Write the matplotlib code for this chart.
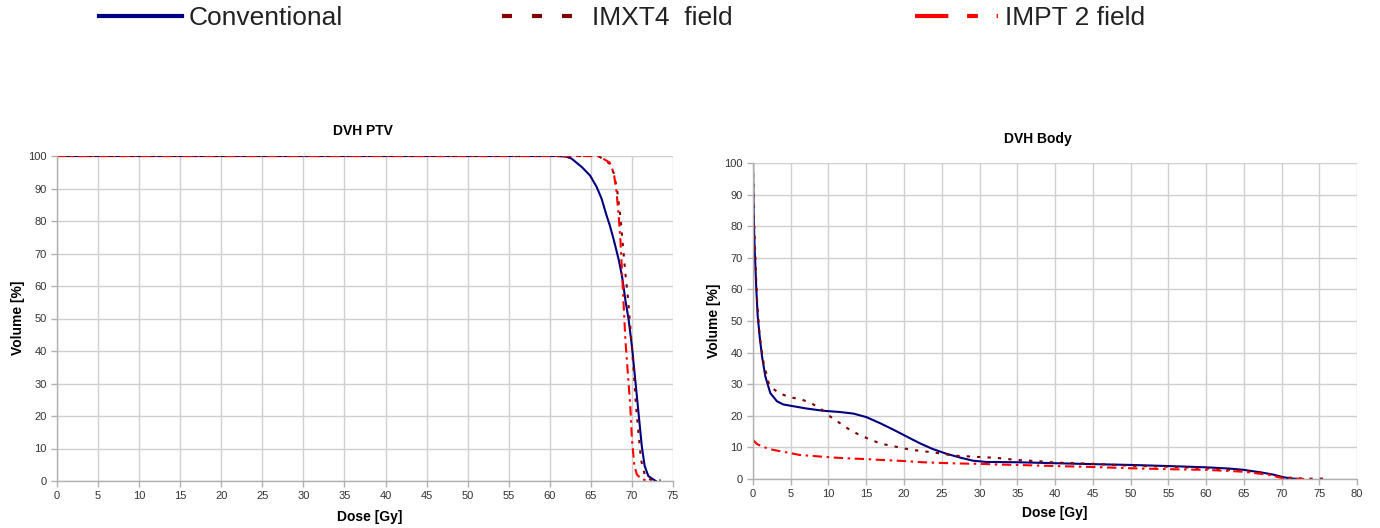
import matplotlib
matplotlib.use("Agg")
import matplotlib.pyplot as plt
from matplotlib.lines import Line2D
import numpy as np

plt.rcParams['font.family'] = ['Liberation Sans', 'DejaVu Sans']

series_names = ["Conventional", "IMXT4  field", "IMPT 2 field"]

# ---- DVH PTV data ----
ptv_conv_dose = [0, 61.0, 62.0, 62.65, 63.9, 64.9, 65.7, 66.3, 66.9, 67.3, 67.8, 68.4, 68.8, 69.2,
                 69.6, 70.0, 70.4, 70.8, 71.2, 71.55, 72.0, 72.9]
ptv_conv_vol = [100, 100, 99.8, 99.2, 96.6, 94.0, 90.5, 86.9, 81.8, 78.7, 74.1, 68.0, 62.9, 55.7,
                49.6, 41.4, 31.2, 21.0, 10.7, 4.6, 1.5, 0.0]

ptv_imxt_dose = [0, 65.5, 66.1, 67.3, 67.8, 68.2, 68.6, 68.8, 69.2, 69.5, 69.8, 70.2, 70.5, 70.8,
                 71.1, 71.6, 72.2, 73.5]
ptv_imxt_vol = [100, 100, 99.7, 97.6, 94.6, 89.5, 81.3, 75.2, 63.9, 56.7, 47.5, 34.3, 23.0, 14.8,
                6.6, 1.5, 0.5, 0.2]

ptv_impt_dose = [0, 65.9, 67.3, 67.8, 68.1, 68.4, 68.6, 68.8, 69.0, 69.2, 69.5, 69.8, 70.0, 70.3,
                 70.6, 71.2, 72.4]
ptv_impt_vol = [100, 100, 98.0, 94.6, 89.5, 81.3, 74.0, 64.0, 53.7, 43.5, 33.2, 23.0, 12.8, 4.6,
                2.0, 0.5, 0.0]

# ---- DVH Body data ----
body_conv_dose = [0, 0.09, 0.22, 0.44, 0.62, 0.88, 1.19, 1.63, 2.29, 3.17, 4.0, 4.93, 7.1, 9.3, 11.5,
                  13.3, 15.0, 16.8, 18.6, 20.3, 22.1, 23.8, 25.6, 27.4, 29.1, 30.9, 35, 40, 45, 50,
                  55, 60, 63.1, 65, 67.5, 68.9, 70, 71.1, 72.5]
body_conv_vol = [100, 83.4, 72.8, 60.0, 51.6, 45.2, 38.9, 32.5, 27.2, 24.6, 23.6, 23.2, 22.3, 21.6, 21.2,
                 20.7, 19.6, 17.7, 15.6, 13.5, 11.3, 9.5, 8.0, 6.8, 5.8, 5.4, 5.3, 5.0, 4.7, 4.45,
                 4.1, 3.7, 3.3, 2.9, 2.0, 1.4, 0.7, 0.2, 0.0]

body_imxt_dose = [0, 0.09, 0.3, 0.53, 0.88, 1.4, 2.07, 2.5, 3.6, 4.9, 6.5, 7.8, 9.1, 10.2, 11.5, 12.6,
                  13.9, 15.3, 16.8, 18.1, 19.4, 21.0, 22.3, 23.8, 25.2, 26.5, 28.2, 29.6, 32.2, 35,
                  38, 40, 45, 50, 55, 60, 65, 67.5, 70, 73, 76]
body_imxt_vol = [100, 85.5, 71.0, 57.0, 45.0, 36.8, 30.4, 28.8, 27.0, 25.9, 25.1, 23.9, 22.0, 19.8,
                 17.7, 15.9, 14.2, 12.7, 11.3, 10.6, 10.0, 9.2, 8.9, 8.4, 8.0, 7.4, 7.2, 7.0, 6.7,
                 6.0, 5.6, 5.2, 4.8, 4.2, 3.9, 3.4, 2.6, 2.0, 0.6, 0.1, 0.1]

body_impt_dose = [0, 0.5, 1.4, 2.7, 4.5, 6.2, 8.4, 10.6, 12.8, 15, 17.2, 19.9, 22.5, 24.7, 27.4, 30,
                  32.2, 35, 40, 45, 50, 55, 60, 65, 68.4, 70.2, 73]
body_impt_vol = [12.4, 11.1, 10.1, 9.2, 8.4, 7.6, 7.2, 6.8, 6.5, 6.3, 6.0, 5.7, 5.3, 5.1, 4.9, 4.8,
                 4.6, 4.45, 4.1, 3.8, 3.4, 3.1, 2.9, 2.3, 1.3, 0.2, 0.0]

ptv_xticks = list(range(0, 80, 5))
body_xticks = list(range(0, 85, 5))
yticks = list(range(0, 110, 10))

colors = ["#000080", "#800000", "#ff0000"]
styles = ["-", (0, (1.6, 3.4)), (0, (4.5, 2.2, 1.2, 2.2))]

W, H = 1380, 528
fig = plt.figure(figsize=(W / 100, H / 100), dpi=100)

def setup(ax, xmax, xticks):
    ax.set_xlim(0, xmax)
    ax.set_ylim(0, 100)
    ax.set_xticks(xticks)
    ax.set_yticks(yticks)
    ax.grid(True, color="#cfcfcf", lw=1.0)
    ax.set_axisbelow(True)
    for s in ["top", "right"]:
        ax.spines[s].set_visible(False)
    for s in ["left", "bottom"]:
        ax.spines[s].set_color("#b0b0b0")
        ax.spines[s].set_linewidth(1.0)
    ax.tick_params(axis="both", labelsize=8, colors="#b0b0b0", labelcolor="#333333",
                   length=4, width=1)

ax1 = fig.add_axes([57 / W, 47 / H, 616 / W, 325 / H])
setup(ax1, 75, ptv_xticks)
ax1.plot(ptv_conv_dose, ptv_conv_vol, color=colors[0], ls=styles[0], lw=1.5)
ax1.plot(ptv_imxt_dose, ptv_imxt_vol, color=colors[1], ls=styles[1], lw=1.5)
ax1.plot(ptv_impt_dose, ptv_impt_vol, color=colors[2], ls=styles[2], lw=1.5)

ax2 = fig.add_axes([753 / W, 49 / H, 604 / W, 316 / H])
setup(ax2, 80, body_xticks)
ax2.plot(body_conv_dose, body_conv_vol, color=colors[0], ls=styles[0], lw=1.5)
ax2.plot(body_imxt_dose, body_imxt_vol, color=colors[1], ls=styles[1], lw=1.5)
ax2.plot(body_impt_dose, body_impt_vol, color=colors[2], ls=styles[2], lw=1.5)

# titles & labels
fig.text(363 / W, 1 - 131 / H, "DVH PTV", ha="center", va="center", fontsize=10, fontweight="bold")
fig.text(1038 / W, 1 - 139 / H, "DVH Body", ha="center", va="center", fontsize=10, fontweight="bold")
fig.text(18 / W, 1 - 318 / H, "Volume [%]", rotation=90, ha="center", va="center", fontsize=10, fontweight="bold")
fig.text(714 / W, 1 - 321 / H, "Volume [%]", rotation=90, ha="center", va="center", fontsize=10, fontweight="bold")
fig.text(370 / W, 1 - 517 / H, "Dose [Gy]", ha="center", va="center", fontsize=10, fontweight="bold")
fig.text(1055 / W, 1 - 513 / H, "Dose [Gy]", ha="center", va="center", fontsize=10, fontweight="bold")

# legend at top (three single-entry legends)
leg_styles = ["-", (0, (2.4, 4.8)), (0, (8, 4.5, 2.6, 4.5))]
leg_x = [99, 502, 915]
for i in range(3):
    h = Line2D([0], [0], color=colors[i], ls=leg_styles[i], lw=3.0)
    lg = fig.legend([h], [series_names[i]], loc="center left",
                    bbox_to_anchor=(leg_x[i] / W, 1 - 18 / H), frameon=False,
                    fontsize=19, handlelength=3.15, handletextpad=0.25,
                    borderpad=0, borderaxespad=0)
    for t in lg.get_texts():
        t.set_color("#222222")

fig.savefig("out.png", dpi=100)
